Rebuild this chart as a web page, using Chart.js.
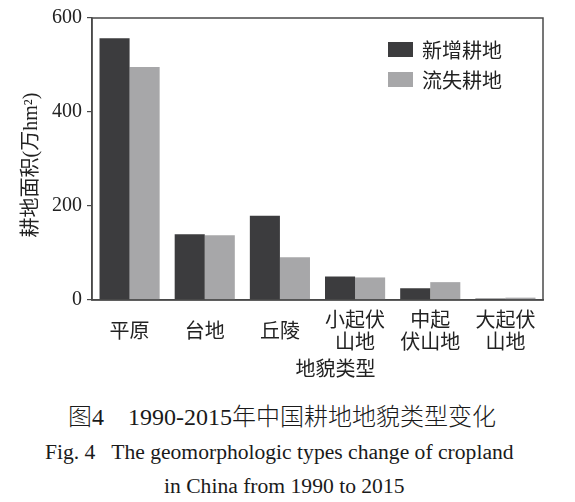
<!DOCTYPE html>
<html>
<head>
<meta charset="utf-8">
<script src="https://cdn.jsdelivr.net/npm/chart.js@4/dist/chart.umd.min.js"></script>
<style>
  html, body { margin: 0; padding: 0; background: #fff; }
  #wrap { position: relative; width: 575px; height: 502px; overflow: hidden; }
  #chartBox { position: absolute; left: 0; top: 0; width: 575px; height: 390px; }
  .cap { position: absolute; white-space: nowrap; color: #1a1a1a; font-family: "Liberation Serif", "Noto Sans CJK SC", serif; }
  #capCn { left: 0; width: 564px; text-align: center; top: 403px; font-size: 24px; line-height: 28px; font-weight: 300; }
  #capEn1 { left: 45px; top: 440px; font-size: 21.6px; line-height: 24px; }
  #capEn2 { left: 164px; top: 474px; font-size: 21.6px; line-height: 24px; }
</style>
</head>
<body>
<div id="wrap">
  <div id="chartBox"><canvas id="c" width="575" height="390"></canvas></div>
  <div class="cap" id="capCn">图4　1990-2015年中国耕地地貌类型变化</div>
  <div class="cap" id="capEn1">Fig. 4&nbsp;&nbsp; The geomorphologic types change of cropland</div>
  <div class="cap" id="capEn2">in China from 1990 to 2015</div>
</div>
<script>
const categories = ['平原', '台地', '丘陵', ['小起伏', '山地'], ['中起', '伏山地'], ['大起伏', '山地']];
const seriesNames = ['新增耕地', '流失耕地'];
const newCropland = [557, 140, 179, 50, 25, 3];
const lostCropland = [496, 138, 91, 48, 38, 5];
const yTicks = [0, 200, 400, 600];
const yTitle = '耕地面积(万hm²)';
const xTitle = '地貌类型';

const DARK = '#3c3c3e';
const LIGHT = '#a7a7a9';
const AXIS = '#4a4a4a';
const TEXT = '#222';
const CJK = '"Noto Sans CJK SC", sans-serif';
const SERIF = '"Liberation Serif", "Noto Sans CJK SC", serif';

const frameAndLegend = {
  id: 'frameAndLegend',
  afterDatasetsDraw(chart) {
    const ctx = chart.ctx;
    const a = chart.chartArea;
    ctx.save();
    // plot frame
    ctx.strokeStyle = AXIS;
    ctx.lineWidth = 1.5;
    ctx.strokeRect(a.left, a.top, a.right - a.left, a.bottom - a.top);
    // legend inside plot, upper right
    const bx = a.right - 155, by = a.top + 24;
    chart.data.datasets.forEach((ds, i) => {
      const y = by + i * 30;
      ctx.fillStyle = ds.backgroundColor;
      ctx.fillRect(bx, y, 25, 15);
      ctx.fillStyle = TEXT;
      ctx.font = '20px ' + CJK;
      ctx.textAlign = 'left';
      ctx.textBaseline = 'middle';
      ctx.fillText(ds.label, bx + 34, y + 8);
    });
    // axis titles
    ctx.fillStyle = TEXT;
    ctx.font = '20px ' + CJK;
    ctx.textAlign = 'center';
    ctx.textBaseline = 'middle';
    ctx.fillText(xTitle, (a.left + a.right) / 2 + 18, 368);
    ctx.translate(32, (a.top + a.bottom) / 2 + 6);
    ctx.rotate(-Math.PI / 2);
    ctx.font = '20px ' + SERIF;
    ctx.fillText(yTitle, 0, 0);
    ctx.restore();
  }
};

new Chart(document.getElementById('c'), {
  type: 'bar',
  data: {
    labels: categories,
    datasets: [
      { label: seriesNames[0], data: newCropland, backgroundColor: DARK },
      { label: seriesNames[1], data: lostCropland, backgroundColor: LIGHT }
    ]
  },
  options: {
    responsive: false,
    animation: false,
    devicePixelRatio: 1,
    layout: { padding: { left: 0, right: 32, top: 18, bottom: 0 } },
    datasets: { bar: { categoryPercentage: 0.8, barPercentage: 1.0, borderWidth: 0 } },
    plugins: { legend: { display: false }, tooltip: { enabled: false }, title: { display: false } },
    scales: {
      x: {
        grid: { display: false, drawTicks: false },
        border: { display: true, color: AXIS, width: 1.5 },
        ticks: { color: TEXT, font: { family: CJK, size: 20, lineHeight: 1.1 }, padding: 19, crossAlign: 'center', maxRotation: 0, autoSkip: false },
        afterFit(s) { s.height = 90; }
      },
      y: {
        min: 0, max: 600,
        afterBuildTicks(s) { s.ticks = yTicks.map(v => ({ value: v })); },
        grid: { display: true, drawOnChartArea: false, drawTicks: true, tickLength: 5, color: AXIS, lineWidth: 1.2 },
        border: { display: true, color: AXIS, width: 1.5 },
        ticks: { color: TEXT, font: { family: SERIF, size: 20 }, padding: 5 },
        afterFit(s) { s.width = 92; }
      }
    }
  },
  plugins: [frameAndLegend]
});
</script>
</body>
</html>
